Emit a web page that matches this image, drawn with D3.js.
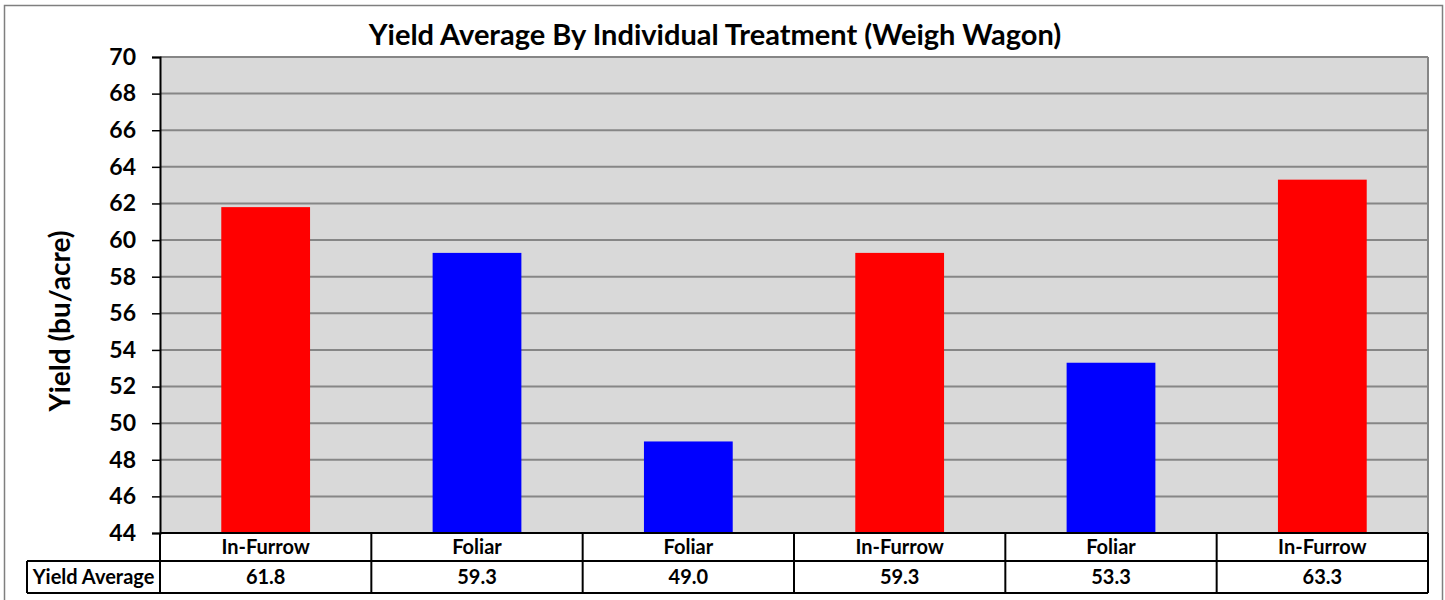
<!DOCTYPE html>
<html>
<head>
<meta charset="utf-8">
<title>Yield Average</title>
<script src="https://d3js.org/d3.v7.min.js"></script>
<style>
  body { margin: 0; background: #fff; }
  text { font-family: Lato, "Open Sans", sans-serif; font-weight: bold; fill: #000; }
</style>
</head>
<body>
<div id="chart"></div>
<script>
"use strict"

var categorias = ["In-Furrow", "Foliar", "Foliar", "In-Furrow", "Foliar", "In-Furrow"];
var valores = [61.8, 59.3, 49.0, 59.3, 53.3, 63.3];
var cores = ["#ff0000", "#0000ff", "#0000ff", "#ff0000", "#0000ff", "#ff0000"];
var ticksY = [44, 46, 48, 50, 52, 54, 56, 58, 60, 62, 64, 66, 68, 70];

var largura = 1445, altura = 600;
var esq = 160, dir = 1428, topo = 57, base = 533;

var svg = d3.select('#chart').append('svg')
  .attr('width', largura)
  .attr('height', altura);

// moldura externa
svg.append('rect')
  .attr('x', 4.5).attr('y', 5.5)
  .attr('width', 1438).attr('height', 600)
  .attr('fill', 'none').attr('stroke', '#7f7f7f').attr('stroke-width', 1.5);

var x = d3.scaleBand()
  .domain(d3.range(categorias.length))
  .range([esq, dir])
  .paddingInner(0.58).paddingOuter(0.29);

var y = d3.scaleLinear()
  .domain([44, 70])
  .range([base, topo]);

// fundo da area do grafico
svg.append('rect')
  .attr('x', esq).attr('y', topo)
  .attr('width', dir - esq).attr('height', base - topo)
  .attr('fill', '#d9d9d9');

// linhas de grade
svg.append('g').selectAll('line')
  .data(ticksY.slice(1))
  .enter().append('line')
  .attr('x1', esq).attr('x2', dir)
  .attr('y1', d => y(d)).attr('y2', d => y(d))
  .attr('stroke', '#868686').attr('stroke-width', 2);

// borda direita
svg.append('line')
  .attr('x1', dir).attr('x2', dir).attr('y1', topo).attr('y2', base)
  .attr('stroke', '#868686').attr('stroke-width', 2);

// barras
svg.append('g').selectAll('rect')
  .data(valores)
  .enter().append('rect')
  .attr('x', (d, i) => x(i))
  .attr('width', x.bandwidth())
  .attr('y', d => y(d))
  .attr('height', d => base - y(d))
  .attr('fill', (d, i) => cores[i]);

// eixo y
var eixoY = svg.append('g')
  .attr('transform', 'translate(' + esq + ',0)')
  .call(d3.axisLeft(y).tickValues(ticksY).tickSize(8).tickPadding(16));
eixoY.select('.domain').attr('stroke', '#000').attr('stroke-width', 2);
eixoY.selectAll('.tick line').attr('stroke', '#000').attr('stroke-width', 1.5);
eixoY.selectAll('.tick text')
  .style('font-family', 'Lato, "Open Sans", sans-serif')
  .style('font-weight', 'bold')
  .style('font-size', '23px')
  .attr('fill', '#000');

// titulo
svg.append('text')
  .attr('x', 715).attr('y', 45)
  .attr('text-anchor', 'middle')
  .style('font-size', '29px')
  .text('Yield Average By Individual Treatment (Weigh Wagon)');

// titulo eixo y
svg.append('text')
  .attr('transform', 'translate(70,321) rotate(-90)')
  .attr('text-anchor', 'middle')
  .style('font-size', '28px')
  .text('Yield (bu/acre)');

// tabela de dados
var linha1 = 533, linha2 = 561, linha3 = 593, tabEsq = 27;
var passo = (dir - esq) / categorias.length;
var tab = svg.append('g').attr('fill', 'none').attr('stroke', '#000').attr('stroke-width', 2);
tab.append('line').attr('x1', esq).attr('x2', dir).attr('y1', linha1).attr('y2', linha1);
tab.append('line').attr('x1', tabEsq).attr('x2', dir).attr('y1', linha2).attr('y2', linha2);
tab.append('line').attr('x1', tabEsq).attr('x2', dir).attr('y1', linha3).attr('y2', linha3);
tab.append('line').attr('x1', tabEsq).attr('x2', tabEsq).attr('y1', linha2).attr('y2', linha3);
tab.selectAll('.col')
  .data(d3.range(categorias.length + 1))
  .enter().append('line')
  .attr('x1', i => esq + i * passo).attr('x2', i => esq + i * passo)
  .attr('y1', linha1).attr('y2', linha3);

svg.append('g').selectAll('text')
  .data(categorias)
  .enter().append('text')
  .attr('x', (d, i) => x(i) + x.bandwidth() / 2)
  .attr('y', 554)
  .attr('text-anchor', 'middle')
  .style('font-size', '20px')
  .text(d => d);

svg.append('g').selectAll('text')
  .data(valores)
  .enter().append('text')
  .attr('x', (d, i) => x(i) + x.bandwidth() / 2)
  .attr('y', 584)
  .attr('text-anchor', 'middle')
  .style('font-size', '20px')
  .text(d => d.toFixed(1));

svg.append('text')
  .attr('x', (tabEsq + esq) / 2).attr('y', 584)
  .attr('text-anchor', 'middle')
  .style('font-size', '20px')
  .text('Yield Average');
</script>
</body>
</html>
